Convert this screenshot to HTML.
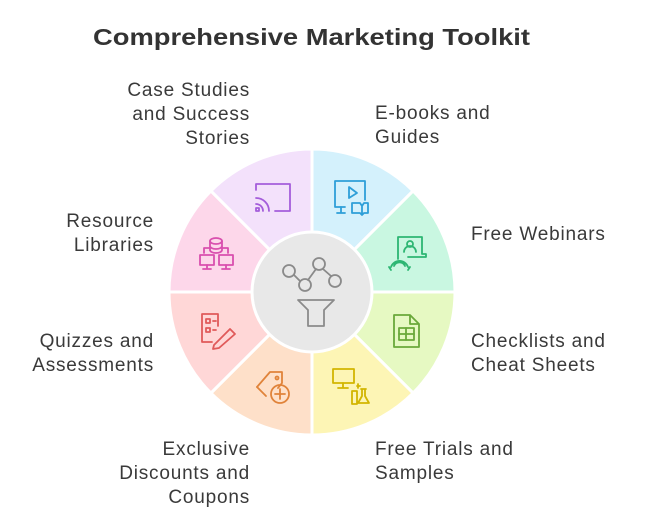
<!DOCTYPE html>
<html><head><meta charset="utf-8"><style>
html,body{margin:0;padding:0;background:#fff;width:648px;height:524px;overflow:hidden}
text{font-family:"Liberation Sans",sans-serif;font-size:19px;letter-spacing:0.8px;fill:#3a3a3a}
</style></head><body>
<svg width="648" height="524" viewBox="0 0 648 524" xmlns="http://www.w3.org/2000/svg">
<text x="93" y="45" textLength="437" lengthAdjust="spacingAndGlyphs" style="font-size:23px;font-weight:bold;fill:#333;letter-spacing:0">Comprehensive Marketing Toolkit</text>
<g transform="translate(312,292)" stroke="#fff" stroke-width="3">
<path d="M0 0 L0 -143 A143 143 0 0 1 101.1 -101.1 Z" fill="#d4f1fc"/>
<path d="M0 0 L101.1 -101.1 A143 143 0 0 1 143 0 Z" fill="#c9f7e1"/>
<path d="M0 0 L143 0 A143 143 0 0 1 101.1 101.1 Z" fill="#e6f9c2"/>
<path d="M0 0 L101.1 101.1 A143 143 0 0 1 0 143 Z" fill="#fdf5b5"/>
<path d="M0 0 L0 143 A143 143 0 0 1 -101.1 101.1 Z" fill="#fee0c9"/>
<path d="M0 0 L-101.1 101.1 A143 143 0 0 1 -143 0 Z" fill="#ffd7d7"/>
<path d="M0 0 L-143 0 A143 143 0 0 1 -101.1 -101.1 Z" fill="#fdd7ea"/>
<path d="M0 0 L-101.1 -101.1 A143 143 0 0 1 0 -143 Z" fill="#f3e1fb"/>
<circle r="60" fill="#e8e8e8"/>
</g>
<g fill="none" stroke-width="1.8" stroke-linecap="round" stroke-linejoin="round">
<g stroke="#8a8a8a">
<circle cx="289" cy="271" r="6"/><circle cx="305" cy="285" r="6"/><circle cx="319" cy="264" r="6"/><circle cx="335" cy="281" r="6"/>
<path d="M294 275 L300 281 M308 280 L316 269 M323 269 L331 276"/>
<path d="M298 300 H334 L324 310 V326 H308 V310 Z"/>
</g>
<g stroke="#a45ddb"><path d="M256 190 V184 H290 V211 H275"/><path d="M256 198 a13 13 0 0 1 13 13 M256 204 a7 7 0 0 1 7 7"/><rect x="256" y="208" width="3" height="3"/></g>
<g stroke="#2e9fd8"><path d="M345 207 H335 V181 H365 V200"/><path d="M349 187 L357 193 L349 198 Z"/><path d="M341 207 V213 M337 213 H345"/><path d="M352 203 H360 L362 206 L364 203 H368 V213 H364 L362 215 L360 213 H352 Z M362 206 V214"/></g>
<g stroke="#2db673"><path d="M398 259 V237 H422 V254 H426 V257 H408"/><circle cx="410" cy="244" r="3"/><path d="M404 252 a6 6 0 0 1 12 0"/><path d="M391 267 a9 9 0 0 1 17 0 M394 266 a6 6 0 0 1 11 0 M389 267 L391 270 M410 267 L408 270"/></g>
<g stroke="#6aa93a"><path d="M394 315 H410 L419 324 V347 H394 Z M410 315 V324 H419"/><rect x="399" y="328" width="15" height="12"/><path d="M399 334 H414 M406 328 V340"/></g>
<g stroke="#d2b500"><rect x="333" y="369" width="21" height="14"/><path d="M343 383 V388 M338 388 H348"/><path d="M352 391 V404 H357 V391 Z M361 389 H366 M362 389 V396 L358 403 H369 L365 396 V389"/><path d="M357 386 L360 386 M358 384 V388"/></g>
<g stroke="#e0833a"><path d="M257 387 L270 372 H282 V383 L278 388"/><circle cx="277" cy="378" r="1.5"/><path d="M257 387 L266 396"/><circle cx="280" cy="394" r="9"/><path d="M280 389 V399 M275 394 H285"/></g>
<g stroke="#e05a5a"><path d="M212 342 H202 V314 H218 V326"/><rect x="206" y="319" width="4" height="4"/><rect x="206" y="328" width="4" height="4"/><path d="M213 321 H216 M213 330 H216"/><path d="M214 345 L230 329 L235 334 L219 348 L213 349 Z"/></g>
<g stroke="#d94fae"><ellipse cx="216" cy="241" rx="6" ry="3"/><path d="M210 241 V250 a6 3 0 0 0 12 0 V241 M210 246 a6 3 0 0 0 12 0"/><path d="M210 248 H204 V253 M222 248 H228 V253"/><rect x="200" y="255" width="14" height="10"/><rect x="219" y="255" width="14" height="10"/><path d="M207 265 V269 M203 269 H211 M226 265 V269 M222 269 H230"/></g>
</g>
<g>
<text x="250" y="96" text-anchor="end">Case Studies</text>
<text x="250" y="120" text-anchor="end">and Success</text>
<text x="250" y="144" text-anchor="end">Stories</text>
<text x="375" y="119">E-books and</text>
<text x="375" y="143">Guides</text>
<text x="471" y="240">Free Webinars</text>
<text x="471" y="347">Checklists and</text>
<text x="471" y="371">Cheat Sheets</text>
<text x="375" y="455">Free Trials and</text>
<text x="375" y="479">Samples</text>
<text x="250" y="455" text-anchor="end">Exclusive</text>
<text x="250" y="479" text-anchor="end">Discounts and</text>
<text x="250" y="503" text-anchor="end">Coupons</text>
<text x="154" y="347" text-anchor="end">Quizzes and</text>
<text x="154" y="371" text-anchor="end">Assessments</text>
<text x="154" y="227" text-anchor="end">Resource</text>
<text x="154" y="251" text-anchor="end">Libraries</text>
</g>
</svg>
</body></html>
